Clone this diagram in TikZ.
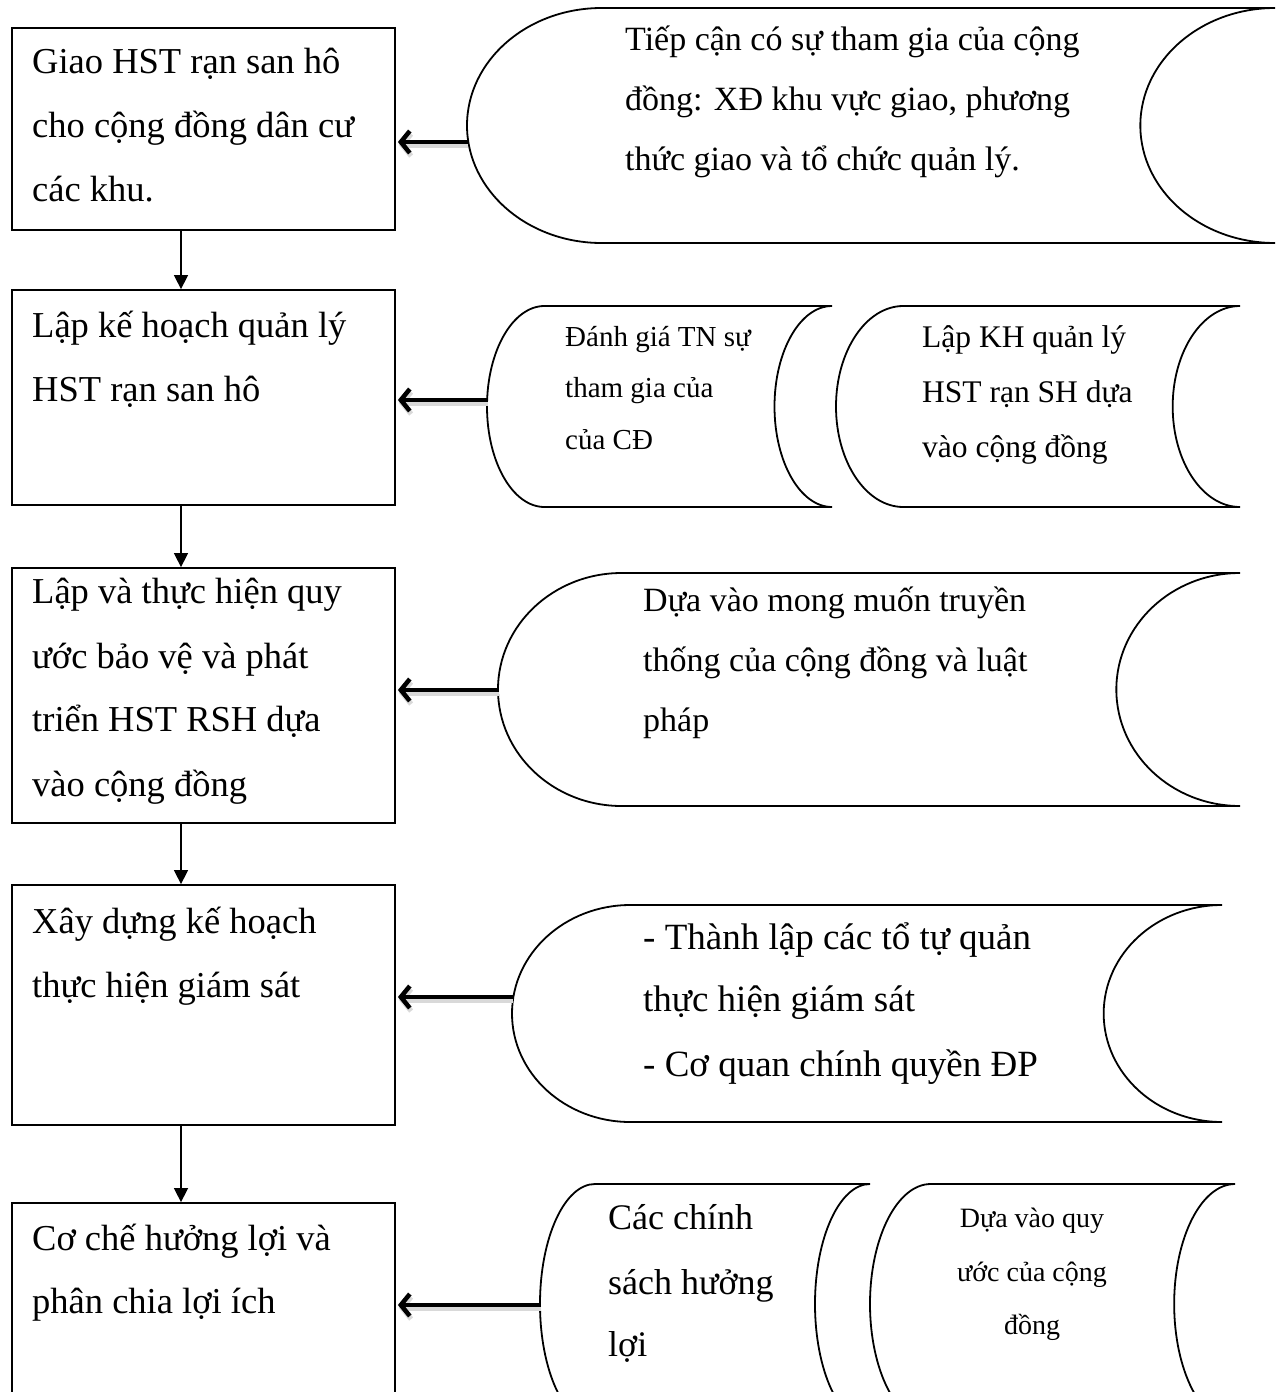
\documentclass[tikz,border=0pt]{standalone}
\usepackage{fontspec}
\setmainfont{Liberation Serif}
\usetikzlibrary{arrows.meta}
\tikzset{
  box/.style={draw, line width=1.8pt, inner sep=0pt},
  shp/.style={draw, line width=1.8pt},
  lbl/.style={anchor=base west, inner sep=0pt, font=\fontsize{36.5}{40}\selectfont},
  rl/.style={anchor=base west, inner sep=0pt, font=\fontsize{#1}{#1}\selectfont},
  rc/.style={anchor=base, inner sep=0pt, font=\fontsize{#1}{#1}\selectfont},
  downarr/.style={line width=1.5pt, -{Triangle[length=14pt,width=14pt]}},
  thickarr/.style={line width=4.5pt, -{Straight Barb[length=9pt,width=22pt]}},
  shadowarr/.style={line width=5pt, black!15, -{Straight Barb[length=9pt,width=22pt]}}
}
\newcommand{\stshape}[4]{%
  \pgfmathsetmacro\stRx{(#2-#1)/6}%
  \pgfmathsetmacro\stRy{(#4-#3)/2}%
  \pgfmathsetmacro\stXl{#1+\stRx}%
  \draw[shp] (#2,-#3) -- (\stXl,-#3) arc[start angle=90,end angle=270,x radius=\stRx pt,y radius=\stRy pt]
    -- (#2,-#4) arc[start angle=270,end angle=90,x radius=\stRx pt,y radius=\stRy pt] -- cycle;}
\begin{document}
\begin{tikzpicture}[x=1pt,y=1pt]
\useasboundingbox (0,0) rectangle (1279,-1392);
\clip (0,0) rectangle (1279,-1392);
\fill[white] (0,0) rectangle (1279,-1392);

% left boxes
\node[box, minimum width=383pt, minimum height=202pt] (b1) at (203.5,-129) {};
\node[box, minimum width=383pt, minimum height=215pt] (b2) at (203.5,-397.5) {};
\node[box, minimum width=383pt, minimum height=255pt] (b3) at (203.5,-695.5) {};
\node[box, minimum width=383pt, minimum height=240pt] (b4) at (203.5,-1005) {};
\node[box, minimum width=383pt, minimum height=220pt] (b5) at (203.5,-1313) {};

\node[lbl] (t11) at (32,-73) {Giao HST rạn san hô};
\node[lbl] (t12) at (32,-137) {cho cộng đồng dân cư};
\node[lbl] (t13) at (32,-201) {các khu.};
\node[lbl] (t21) at (32,-337) {Lập kế hoạch quản lý};
\node[lbl] (t22) at (32,-401) {HST rạn san hô};
\node[lbl] (t31) at (32,-603) {Lập và thực hiện quy};
\node[lbl] (t32) at (32,-668) {ước bảo vệ và phát};
\node[lbl] (t33) at (32,-731) {triển HST RSH dựa};
\node[lbl] (t34) at (32,-796) {vào cộng đồng};
\node[lbl] (t41) at (32,-933) {Xây dựng kế hoạch};
\node[lbl] (t42) at (32,-997) {thực hiện giám sát};
\node[lbl] (t51) at (32,-1250) {Cơ chế hưởng lợi và};
\node[lbl] (t52) at (32,-1313) {phân chia lợi ích};

% down arrows
\coordinate (ax) at (181,0);
\draw[downarr] (b1.south -| ax) -- (b2.north -| ax);
\draw[downarr] (b2.south -| ax) -- (b3.north -| ax);
\draw[downarr] (b3.south -| ax) -- (b4.north -| ax);
\draw[downarr] (b4.south -| ax) -- (b5.north -| ax);

% right shapes
\stshape{467}{1275}{8}{243}
\stshape{487}{832}{306}{507}
\stshape{836}{1240}{306}{507}
\stshape{498}{1240}{573}{806}
\stshape{512}{1222}{905}{1122}
\stshape{540}{870}{1184}{1424}
\stshape{870}{1235}{1184}{1424}

% right texts
\node[rl=34] (r11) at (625,-50) {Tiếp cận có sự tham gia của cộng};
\node[rl=34] (r12) at (625,-110) {đồng: XĐ khu vực giao, phương};
\node[rl=34] (r13) at (625,-170) {thức giao và tổ chức quản lý.};
\node[rl=29] (r21) at (565,-346) {Đánh giá TN sự};
\node[rl=29] (r22) at (565,-397) {tham gia của};
\node[rl=29] (r23) at (565,-449) {của CĐ};
\node[rl=31.5] (r24) at (922,-347) {Lập KH quản lý};
\node[rl=31.5] (r25) at (922,-402) {HST rạn SH dựa};
\node[rl=31.5] (r26) at (922,-457) {vào cộng đồng};
\node[rl=34] (r31) at (643,-611) {Dựa vào mong muốn truyền};
\node[rl=34] (r32) at (643,-671) {thống của cộng đồng và luật};
\node[rl=34] (r33) at (643,-731) {pháp};
\node[rl=37] (r41) at (643,-949) {- Thành lập các tổ tự quản};
\node[rl=37] (r42) at (643,-1011) {thực hiện giám sát};
\node[rl=37] (r43) at (643,-1076) {- Cơ quan chính quyền ĐP};
\node[rl=36] (r51) at (608,-1229) {Các chính};
\node[rl=36] (r52) at (608,-1294) {sách hưởng};
\node[rl=36] (r53) at (608,-1356) {lợi};
\node[rc=28] (r54) at (1032,-1227) {Dựa vào quy};
\node[rc=28] (r55) at (1032,-1281) {ước của cộng};
\node[rc=28] (r56) at (1032,-1334) {đồng};

% horizontal arrows
\coordinate (s1) at (468,-142);
\coordinate (s2) at (488,-400);
\coordinate (s3) at (499,-690);
\coordinate (s4) at (513,-997);
\coordinate (s5) at (541,-1305);
\foreach \s/\b in {s1/b1,s2/b2,s3/b3,s4/b4,s5/b5}{
  \draw[shadowarr] ([shift={(0,-3)}]\s) -- ([shift={(3,-3)}]\b.east |- \s);
  \draw[thickarr] (\s) -- ([xshift=2pt]\b.east |- \s);
}
\end{tikzpicture}
\end{document}
